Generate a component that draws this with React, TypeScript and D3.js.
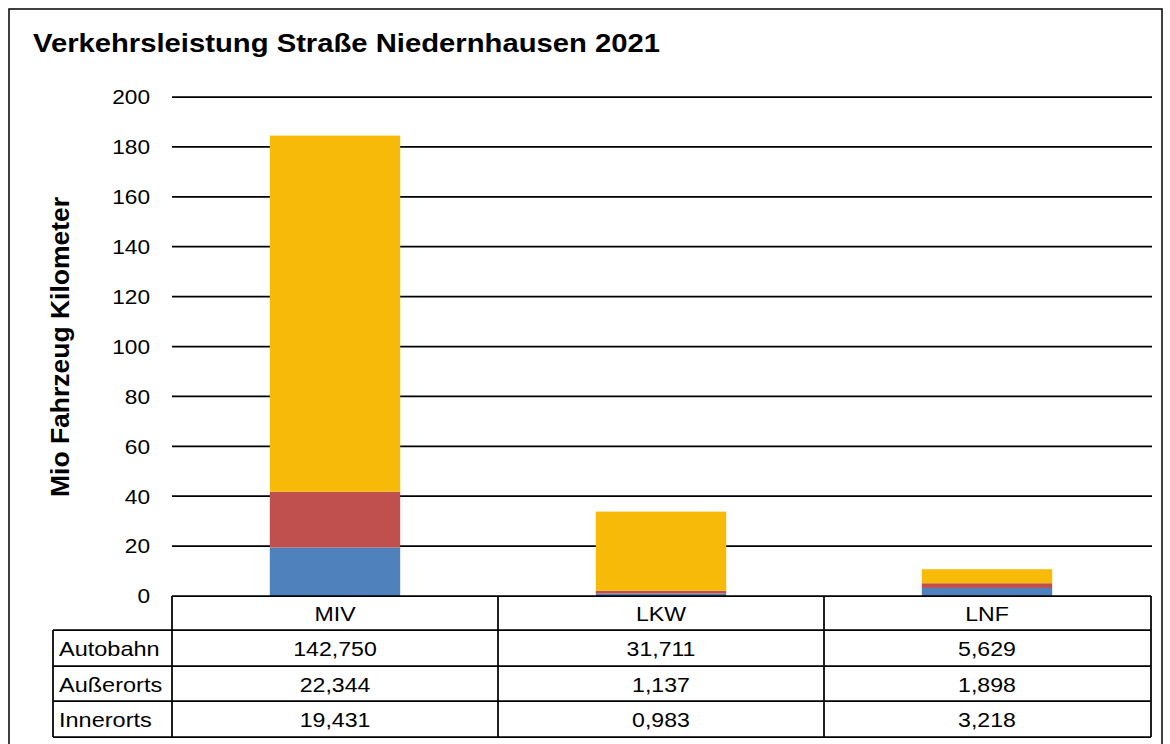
import React from "react";
import * as d3 from "d3";

const categories = ["MIV", "LKW", "LNF"];
const seriesNames = ["Innerorts", "Außerorts", "Autobahn"];
const innerorts = [19.431, 0.983, 3.218];
const ausserorts = [22.344, 1.137, 1.898];
const autobahn = [142.75, 31.711, 5.629];
const yTicks = [0, 20, 40, 60, 80, 100, 120, 140, 160, 180, 200];
const tableRows = ["Autobahn", "Außerorts", "Innerorts"];
const colors: Record<string, string> = {
  Innerorts: "#4F81BD",
  "Außerorts": "#C0504D",
  Autobahn: "#F8BA08",
};

const W = 1170;
const H = 744;
const FONT = "'Liberation Sans', Arial, sans-serif";
const SX = 1.1;

function T(props: {
  x: number;
  y: number;
  anchor?: "start" | "middle" | "end";
  size: number;
  bold?: boolean;
  sx?: number;
  children: React.ReactNode;
}) {
  const sx = props.sx ?? SX;
  return (
    <text
      transform={`translate(${props.x},${props.y}) scale(${sx},1)`}
      textAnchor={props.anchor ?? "start"}
      dy="0.35em"
      fontSize={props.size}
      fontWeight={props.bold ? "bold" : "normal"}
      fill="#000"
    >
      {props.children}
    </text>
  );
}

export default function App() {
  const plotLeft = 172;
  const plotRight = 1150;
  const yTop = 97;
  const yBottom = 596;
  const x = d3.scaleBand().domain(categories).range([plotLeft, plotRight]).paddingInner(0).paddingOuter(0);
  const y = d3.scaleLinear().domain([0, 200]).range([yBottom, yTop]);
  const barW = x.bandwidth() * 0.4;

  const rows = categories.map((c, i) => ({
    cat: c,
    Innerorts: innerorts[i],
    "Außerorts": ausserorts[i],
    Autobahn: autobahn[i],
  }));
  const stack = d3.stack<any>().keys(seriesNames)(rows);
  const valueMap: Record<string, number[]> = {
    Autobahn: autobahn,
    "Außerorts": ausserorts,
    Innerorts: innerorts,
  };
  const fmt = (v: number) => v.toFixed(3).replace(".", ",");

  const headerTop = 596;
  const rowTops = [630, 666, 701];
  const rowBottom = 737;
  const labelLeft = 53;
  const lw = 1.75;

  return (
    <svg width={W} height={H} style={{ display: "block", position: "absolute", left: 0, top: 0 }} fontFamily={FONT}>
      <rect x={0} y={0} width={W} height={H} fill="#fff" />
      <rect x={9} y={9} width={1153} height={760} fill="none" stroke="#000" strokeWidth={1.5} />
      <text x={33} y={52} fontSize={26.5} fontWeight="bold" fill="#000" textLength={627} lengthAdjust="spacingAndGlyphs">
        Verkehrsleistung Straße Niedernhausen 2021
      </text>
      {/* y label */}
      <text
        transform={`translate(68.5,${347}) rotate(-90)`}
        textAnchor="middle"
        fontSize={25}
        fontWeight="bold"
        fill="#000"
        textLength={300}
        lengthAdjust="spacingAndGlyphs"
      >
        Mio Fahrzeug Kilometer
      </text>
      {/* gridlines */}
      {yTicks.map((t) => (
        <g key={t}>
          {t > 0 && (
            <line x1={plotLeft} x2={1152} y1={y(t)} y2={y(t)} stroke="#000" strokeWidth={lw} />
          )}
          <T x={150} y={y(t)} anchor="end" size={21} sx={1.08}>
            {t}
          </T>
        </g>
      ))}
      {/* bars */}
      {stack.map((s) => (
        <g key={s.key} fill={colors[s.key]}>
          {s.map((d, i) => (
            <rect
              key={i}
              x={(x(categories[i]) as number) + (x.bandwidth() - barW) / 2}
              y={y(d[1])}
              width={barW}
              height={y(d[0]) - y(d[1])}
            />
          ))}
        </g>
      ))}
      {/* data table */}
      <g stroke="#000" strokeWidth={lw} fill="none">
        <line x1={plotLeft} x2={plotRight + 1} y1={headerTop} y2={headerTop} />
        {rowTops.map((r) => (
          <line key={r} x1={labelLeft} x2={plotRight + 1} y1={r} y2={r} />
        ))}
        <line x1={labelLeft} x2={plotRight + 1} y1={rowBottom} y2={rowBottom} />
        <line x1={labelLeft} x2={labelLeft} y1={rowTops[0]} y2={rowBottom} />
        {categories.map((c) => (
          <line key={c} x1={x(c) as number} x2={x(c) as number} y1={headerTop} y2={rowBottom} />
        ))}
        <line x1={plotRight + 1} x2={plotRight + 1} y1={headerTop} y2={rowBottom} />
      </g>
      {categories.map((c) => (
        <T key={c} x={(x(c) as number) + x.bandwidth() / 2} y={(headerTop + rowTops[0]) / 2 + 1} anchor="middle" size={21}>
          {c}
        </T>
      ))}
      {tableRows.map((r, ri) => {
        const top = rowTops[ri];
        const bottom = ri < rowTops.length - 1 ? rowTops[ri + 1] : rowBottom;
        const cy = (top + bottom) / 2 + 1;
        return (
          <g key={r}>
            <T x={labelLeft + 6} y={cy} size={21} sx={1.12}>
              {r}
            </T>
            {categories.map((c, ci) => (
              <T key={c} x={(x(c) as number) + x.bandwidth() / 2} y={cy} anchor="middle" size={21}>
                {fmt(valueMap[r][ci])}
              </T>
            ))}
          </g>
        );
      })}
    </svg>
  );
}
